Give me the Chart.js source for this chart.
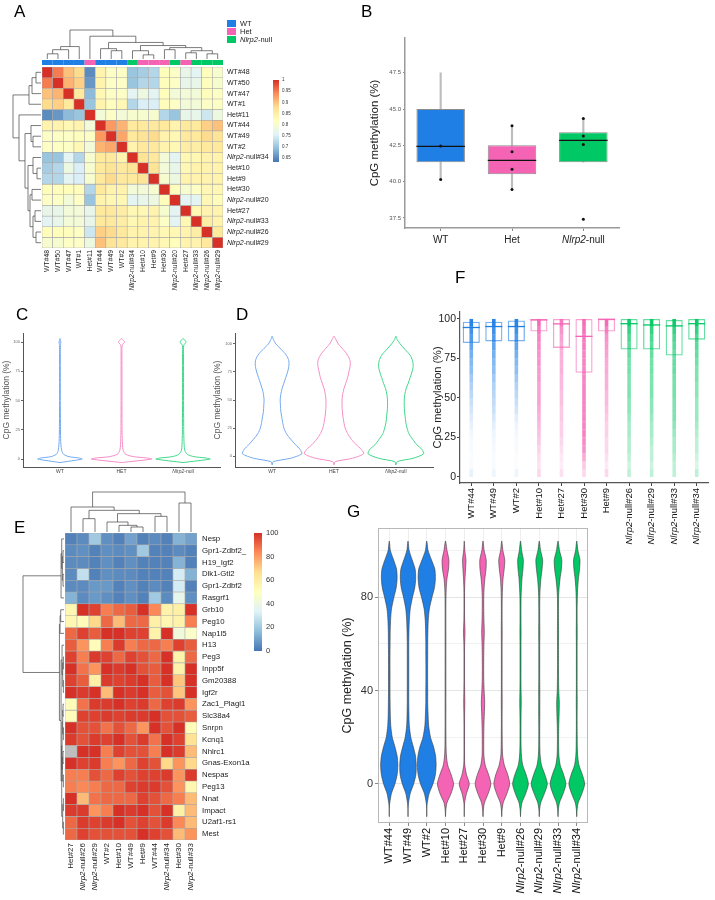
<!DOCTYPE html>
<html>
<head>
<meta charset="utf-8">
<title>CpG methylation figure</title>
<script src="https://cdn.jsdelivr.net/npm/chart.js@4.4.1/dist/chart.umd.min.js"></script>
<style>
  html, body { margin: 0; padding: 0; background: #fff; }
  #fig { position: relative; width: 715px; height: 900px; overflow: hidden; background: #fff; }
  #fig canvas { position: absolute; }
  .tag { position: absolute; font: 17px 'Liberation Sans', Arial, sans-serif; color: #000; line-height: 1; }
</style>
</head>
<body>
<div id="fig">
  <canvas id="chartA" width="360" height="300" style="left:0;top:0"></canvas>
  <canvas id="chartB" width="355" height="262" style="left:360px;top:0"></canvas>
  <canvas id="chartC" width="230" height="180" style="left:0;top:310px"></canvas>
  <canvas id="chartD" width="240" height="180" style="left:205px;top:310px"></canvas>
  <canvas id="chartE" width="330" height="420" style="left:0;top:480px"></canvas>
  <canvas id="chartF" width="315" height="270" style="left:400px;top:290px"></canvas>
  <canvas id="chartG" width="385" height="400" style="left:330px;top:500px"></canvas>
  <div class="tag" style="left:14px;top:3px">A</div>
  <div class="tag" style="left:361px;top:3px">B</div>
  <div class="tag" style="left:16px;top:306px">C</div>
  <div class="tag" style="left:236px;top:306px">D</div>
  <div class="tag" style="left:14px;top:519px">E</div>
  <div class="tag" style="left:455px;top:269px">F</div>
  <div class="tag" style="left:347px;top:503px">G</div>
</div>
<script>
/* ---------- shared look ---------- */
const FONT = "'Liberation Sans', Arial, sans-serif";
const GROUP_COLOR = { WT: '#1F7FE5', Het: '#F564B4', KO: '#00C864' };
const GROUP_RGB = { WT: '31,127,229', Het: '245,100,180', KO: '0,200,100' };
const RDYLBU = ['#4575B4', '#91BFDB', '#E0F3F8', '#FFFFBF', '#FEE090', '#FC8D59', '#D73027'];

/* ---------- A: sample correlation ---------- */
const samplesA = ['WT#48', 'WT#50', 'WT#47', 'WT#1', 'Het#11', 'WT#44', 'WT#49', 'WT#2', 'Nlrp2-null#34',
  'Het#10', 'Het#9', 'Het#30', 'Nlrp2-null#20', 'Het#27', 'Nlrp2-null#33', 'Nlrp2-null#26', 'Nlrp2-null#29'];
const groupsA = ['WT', 'WT', 'WT', 'WT', 'Het', 'WT', 'WT', 'WT', 'KO', 'Het', 'Het', 'Het', 'KO', 'Het', 'KO', 'KO', 'KO'];
const corrA = [
  [1.00, 0.95, 0.90, 0.88, 0.65, 0.84, 0.81, 0.81, 0.70, 0.71, 0.72, 0.82, 0.81, 0.77, 0.76, 0.82, 0.80],
  [0.95, 1.00, 0.91, 0.89, 0.66, 0.84, 0.81, 0.81, 0.70, 0.72, 0.72, 0.82, 0.81, 0.77, 0.77, 0.82, 0.80],
  [0.90, 0.91, 1.00, 0.86, 0.69, 0.83, 0.81, 0.81, 0.76, 0.78, 0.76, 0.82, 0.79, 0.79, 0.79, 0.82, 0.81],
  [0.88, 0.89, 0.86, 1.00, 0.70, 0.84, 0.82, 0.83, 0.72, 0.75, 0.75, 0.82, 0.81, 0.79, 0.79, 0.81, 0.81],
  [0.65, 0.66, 0.69, 0.70, 1.00, 0.79, 0.81, 0.79, 0.80, 0.80, 0.80, 0.72, 0.70, 0.77, 0.77, 0.74, 0.78],
  [0.84, 0.84, 0.83, 0.84, 0.79, 1.00, 0.93, 0.91, 0.86, 0.86, 0.86, 0.86, 0.84, 0.86, 0.86, 0.89, 0.90],
  [0.81, 0.81, 0.81, 0.82, 0.81, 0.93, 1.00, 0.92, 0.86, 0.87, 0.88, 0.84, 0.83, 0.86, 0.86, 0.88, 0.87],
  [0.81, 0.81, 0.81, 0.83, 0.79, 0.91, 0.92, 1.00, 0.84, 0.86, 0.86, 0.84, 0.83, 0.85, 0.85, 0.86, 0.86],
  [0.70, 0.70, 0.76, 0.72, 0.80, 0.86, 0.86, 0.84, 1.00, 0.87, 0.86, 0.79, 0.76, 0.83, 0.83, 0.84, 0.84],
  [0.71, 0.72, 0.78, 0.75, 0.80, 0.86, 0.87, 0.86, 0.87, 1.00, 0.87, 0.79, 0.77, 0.83, 0.84, 0.84, 0.84],
  [0.72, 0.72, 0.76, 0.75, 0.80, 0.86, 0.88, 0.86, 0.86, 0.87, 1.00, 0.80, 0.78, 0.84, 0.84, 0.84, 0.84],
  [0.82, 0.82, 0.82, 0.82, 0.72, 0.86, 0.84, 0.84, 0.79, 0.79, 0.80, 1.00, 0.82, 0.80, 0.81, 0.83, 0.83],
  [0.81, 0.81, 0.79, 0.81, 0.70, 0.84, 0.83, 0.83, 0.76, 0.77, 0.78, 0.82, 1.00, 0.76, 0.76, 0.83, 0.82],
  [0.77, 0.77, 0.79, 0.79, 0.77, 0.86, 0.86, 0.85, 0.83, 0.83, 0.84, 0.80, 0.76, 1.00, 0.83, 0.84, 0.84],
  [0.76, 0.77, 0.79, 0.79, 0.77, 0.86, 0.86, 0.85, 0.83, 0.84, 0.84, 0.81, 0.76, 0.83, 1.00, 0.85, 0.84],
  [0.82, 0.82, 0.82, 0.81, 0.74, 0.89, 0.88, 0.86, 0.84, 0.84, 0.84, 0.83, 0.83, 0.84, 0.85, 1.00, 0.86],
  [0.80, 0.80, 0.81, 0.81, 0.78, 0.90, 0.87, 0.86, 0.84, 0.84, 0.84, 0.83, 0.82, 0.84, 0.84, 0.86, 1.00]
];
// [left, right, height]; numbers are leaves in display order
const treeA = [
  [[[0, 1, 0.05], 2, 0.09], 3, 0.12],
  [4, [[5, [6, 7, 0.08], 0.10],
       [[8, [9, 10, 0.04], 0.08], [[11, 12, 0.09], [[13, 14, 0.06], [15, 16, 0.05], 0.08], 0.11], 0.13], 0.16], 0.22],
  0.28];
const corrRangeA = [0.632, 1];
const corrTicksA = [1, 0.95, 0.9, 0.85, 0.8, 0.75, 0.7, 0.65];
const legendA = [['WT', 'WT'], ['Het', 'Het'], ['Nlrp2-null', 'KO']];

/* ---------- B: global methylation per genotype ---------- */
const groupsB = ['WT', 'Het', 'Nlrp2-null'];
const keysB = ['WT', 'Het', 'KO'];
const boxB = [[41.34, 45.0], [40.5, 42.5], [41.34, 43.4]];
const medianB = [42.43, 41.46, 42.84];
const whiskerB = [[40.15, 47.5], [39.45, 43.85], [41.34, 44.35]];
const pointsB = [[42.45, 40.15], [43.85, 42.05, 40.85, 39.45], [44.35, 43.15, 42.55, 37.4]];
const ticksB = [37.5, 40, 42.5, 45, 47.5];

/* ---------- C, D: pooled violins ---------- */
const groupsCD = ['WT', 'HET', 'Nlrp2-null'];
const outlineCD = ['#72AAF0', '#F68CC6', '#3FD889'];
const ticksCD = [0, 25, 50, 75, 100];
const yGridC = [-3, 0, 1, 2, 4, 7, 10, 15, 20, 30, 50, 70, 90, 97, 99, 100, 101, 103];
const widthC = [
  [0, 0.36, 0.3, 0.15, 0.06, 0.03, 0.02, 0.013, 0.01, 0.008, 0.006, 0.006, 0.006, 0.008, 0.012, 0.015, 0.01, 0],
  [0, 0.49, 0.4, 0.2, 0.07, 0.03, 0.02, 0.013, 0.01, 0.008, 0.007, 0.007, 0.007, 0.01, 0.035, 0.055, 0.035, 0],
  [0, 0.44, 0.36, 0.18, 0.07, 0.03, 0.02, 0.015, 0.012, 0.01, 0.008, 0.008, 0.008, 0.01, 0.035, 0.055, 0.035, 0]
];
const yGridD = [-8, -5, -2, 2, 6, 10, 15, 20, 25, 30, 35, 40, 45, 50, 55, 60, 65, 70, 75, 80, 85, 90, 95, 100, 104, 107];
const widthD = [
  [0, 0.02, 0.3, 0.48, 0.45, 0.38, 0.3, 0.23, 0.19, 0.17, 0.155, 0.14, 0.135, 0.13, 0.14, 0.16, 0.19, 0.22, 0.25, 0.27, 0.27, 0.23, 0.15, 0.06, 0.02, 0],
  [0, 0.02, 0.3, 0.48, 0.44, 0.36, 0.28, 0.22, 0.18, 0.16, 0.145, 0.135, 0.13, 0.13, 0.14, 0.16, 0.19, 0.22, 0.24, 0.26, 0.26, 0.22, 0.15, 0.07, 0.03, 0],
  [0, 0.02, 0.28, 0.45, 0.42, 0.34, 0.27, 0.21, 0.18, 0.16, 0.15, 0.14, 0.135, 0.135, 0.145, 0.165, 0.2, 0.23, 0.26, 0.28, 0.27, 0.23, 0.15, 0.07, 0.02, 0]
];

/* ---------- E: imprinted loci ---------- */
const samplesE = ['Het#27', 'Nlrp2-null#26', 'Nlrp2-null#29', 'WT#2', 'Het#10', 'WT#49', 'Het#9', 'WT#44',
  'Nlrp2-null#34', 'Het#30', 'Nlrp2-null#33'];
const lociE = ['Nesp', 'Gpr1-Zdbf2_', 'H19_Igf2', 'Dlk1-Gtl2', 'Gpr1-Zdbf2', 'Rasgrf1', 'Grb10', 'Peg10', 'Nap1l5',
  'H13', 'Peg3', 'Inpp5f', 'Gm20388', 'Igf2r', 'Zac1_Plagl1', 'Slc38a4', 'Snrpn', 'Kcnq1', 'Nhlrc1',
  'Gnas-Exon1a', 'Nespas', 'Peg13', 'Nnat', 'Impact', 'U2af1-rs1', 'Mest'];
const methE = [
  [3, 5, 20, 6, 3, 10, 3, 5, 3, 14, 10],
  [5, 6, 3, 6, 5, 6, 20, 3, 3, 5, 3],
  [5, 5, 3, 6, 3, 6, 3, 3, 3, 14, 3],
  [5, 27, 3, 6, 5, 5, 3, 3, 3, 31, 14],
  [5, 5, 8, 8, 3, 6, 3, 5, 3, 31, 3],
  [14, 5, 8, 6, 3, 6, 3, 20, 5, 37, 6],
  [55, 100, 97, 86, 90, 92, 100, 84, 57, 58, 100],
  [55, 52, 68, 90, 74, 90, 90, 58, 55, 57, 86],
  [90, 97, 92, 100, 100, 97, 97, 57, 100, 42, 47],
  [92, 82, 52, 86, 98, 86, 90, 90, 86, 97, 92],
  [97, 86, 98, 97, 90, 97, 94, 90, 100, 57, 90],
  [100, 88, 82, 100, 98, 100, 94, 92, 100, 57, 100],
  [97, 92, 58, 98, 97, 98, 100, 92, 100, 72, 100],
  [100, 98, 100, 74, 100, 98, 100, 92, 94, 72, 100],
  [52, 88, 98, 98, 100, 97, 98, 90, 97, 98, 82],
  [52, 97, 97, 98, 97, 98, 98, 100, 94, 94, 92],
  [100, 94, 94, 88, 94, 90, 82, 100, 94, 100, 52],
  [98, 94, 98, 97, 100, 94, 98, 88, 100, 97, 65],
  [null, 100, 100, 86, 97, 94, 94, 86, 100, 98, 74],
  [100, 97, 98, 86, 82, 90, 97, 94, 68, 82, 68],
  [86, 86, 94, 90, 97, 94, 97, 97, 98, 82, 98],
  [86, 84, 86, 90, 90, 97, 98, 98, 94, 82, 55],
  [100, 74, 88, 90, 90, 90, 97, 94, 90, 86, 74],
  [98, 98, 82, 86, 100, 98, 100, 94, 100, 58, 74],
  [90, 98, 97, 98, 100, 94, 97, 94, 98, 84, 74],
  [90, 97, 94, 94, 94, 94, 100, 97, 94, 74, 82]
];
const colTreeE = [[0, [[1, 2, 40], [[3, [4, [5, 6, 15], 20], 30], [7, 8, 47], 55], 65], 75], [9, 10, 87], 120];
const rowTreeE = [
  [[0, [[1, 2, 3], [3, 4, 3], 5], 7], 5, 9],
  [[[6, 7, 10], 8, 12],
   [[9, [[10, 11, 2], [12, 13, 2], 4], 6],
    [[[[14, 15, 3], [16, 17, 2], 4], [[18, 19, 3], [20, 21, 2], 5], 6], [[22, 23, 2], [24, 25, 2], 4], 7], 9], 14],
  125];
const ticksE = [100, 80, 60, 40, 20, 0];

/* ---------- F: per-sample boxes with points ---------- */
const samplesF = ['WT#44', 'WT#49', 'WT#2', 'Het#10', 'Het#27', 'Het#30', 'Het#9',
  'Nlrp2-null#26', 'Nlrp2-null#29', 'Nlrp2-null#33', 'Nlrp2-null#34'];
const groupsF = ['WT', 'WT', 'WT', 'Het', 'Het', 'Het', 'Het', 'KO', 'KO', 'KO', 'KO'];
const boxF = [[84.8, 98.3], [85.8, 98.3], [85.8, 99], [92, 100], [81.7, 100], [66, 100], [92, 100],
  [80.6, 100], [80.6, 100], [76.9, 99.4], [86.9, 100]];
const medianF = [94.6, 95.2, 95.2, 99.4, 96.9, 89, 99.8, 97, 96.2, 95.6, 97];
const stripBinsF = [0, 5, 10, 15, 20, 25, 30, 35, 40, 45, 50, 55, 60, 65, 70, 75, 80, 85, 90, 95, 100];
const stripF = [
  [0.1, 0.03, 0.02, 0.03, 0.04, 0.06, 0.1, 0.15, 0.2, 0.25, 0.3, 0.35, 0.42, 0.5, 0.55, 0.62, 0.7, 0.78, 0.85, 0.95],
  [0.08, 0.03, 0.03, 0.04, 0.05, 0.08, 0.12, 0.18, 0.24, 0.28, 0.32, 0.36, 0.42, 0.5, 0.55, 0.62, 0.7, 0.78, 0.85, 0.95],
  [0.08, 0.02, 0.02, 0.03, 0.04, 0.05, 0.08, 0.13, 0.2, 0.25, 0.3, 0.35, 0.42, 0.5, 0.55, 0.62, 0.7, 0.78, 0.85, 0.95],
  [0.25, 0.18, 0.22, 0.28, 0.35, 0.4, 0.45, 0.5, 0.55, 0.6, 0.6, 0.6, 0.65, 0.65, 0.7, 0.7, 0.75, 0.8, 0.85, 0.95],
  [0.2, 0.12, 0.15, 0.2, 0.25, 0.3, 0.3, 0.35, 0.35, 0.4, 0.4, 0.45, 0.45, 0.5, 0.5, 0.5, 0.55, 0.6, 0.7, 0.85],
  [0.25, 0.35, 0.55, 0.7, 0.75, 0.8, 0.8, 0.8, 0.8, 0.8, 0.8, 0.8, 0.8, 0.8, 0.8, 0.8, 0.85, 0.85, 0.9, 0.95],
  [0.25, 0.15, 0.2, 0.25, 0.25, 0.3, 0.3, 0.35, 0.4, 0.45, 0.45, 0.5, 0.5, 0.55, 0.55, 0.6, 0.65, 0.7, 0.8, 0.95],
  [0.25, 0.2, 0.25, 0.3, 0.3, 0.35, 0.35, 0.4, 0.45, 0.45, 0.5, 0.5, 0.5, 0.55, 0.55, 0.6, 0.65, 0.7, 0.8, 0.95],
  [0.25, 0.2, 0.25, 0.25, 0.3, 0.35, 0.35, 0.4, 0.45, 0.45, 0.5, 0.5, 0.5, 0.55, 0.55, 0.6, 0.65, 0.7, 0.8, 0.95],
  [0.25, 0.25, 0.3, 0.35, 0.35, 0.4, 0.45, 0.5, 0.5, 0.5, 0.55, 0.55, 0.55, 0.6, 0.6, 0.6, 0.65, 0.7, 0.8, 0.95],
  [0.25, 0.15, 0.2, 0.25, 0.25, 0.3, 0.35, 0.4, 0.4, 0.4, 0.45, 0.45, 0.5, 0.5, 0.55, 0.6, 0.65, 0.7, 0.8, 0.95]
];
const ticksF = [0, 25, 50, 75, 100];

/* ---------- G: per-sample violins ---------- */
const samplesG = samplesF;
const groupsG = groupsF;
const yGridG = [-14, -11, -8, -4, 0, 4, 8, 12, 16, 20, 25, 30, 35, 40, 45, 50, 55, 60, 65, 70, 75, 80, 84, 88, 92, 96, 100, 104];
const widthG = [
  [0, 0, 0.03, 0.12, 0.3, 0.42, 0.46, 0.42, 0.3, 0.16, 0.08, 0.055, 0.045, 0.04, 0.04, 0.04, 0.04, 0.045, 0.05, 0.07, 0.12, 0.25, 0.37, 0.42, 0.39, 0.23, 0.06, 0],
  [0, 0, 0.03, 0.12, 0.3, 0.42, 0.44, 0.4, 0.28, 0.15, 0.07, 0.05, 0.04, 0.04, 0.04, 0.04, 0.04, 0.04, 0.05, 0.07, 0.12, 0.24, 0.36, 0.41, 0.38, 0.22, 0.06, 0],
  [0, 0, 0.03, 0.13, 0.33, 0.46, 0.5, 0.47, 0.36, 0.2, 0.1, 0.07, 0.05, 0.05, 0.045, 0.045, 0.05, 0.05, 0.06, 0.08, 0.14, 0.28, 0.41, 0.46, 0.43, 0.25, 0.07, 0],
  [0, 0.02, 0.08, 0.3, 0.43, 0.3, 0.12, 0.05, 0.03, 0.025, 0.02, 0.02, 0.02, 0.02, 0.02, 0.02, 0.02, 0.02, 0.02, 0.02, 0.02, 0.025, 0.04, 0.08, 0.16, 0.18, 0.08, 0],
  [0, 0, 0.02, 0.12, 0.27, 0.12, 0.03, 0.015, 0.015, 0.015, 0.015, 0.02, 0.03, 0.02, 0.015, 0.015, 0.015, 0.02, 0.04, 0.02, 0.015, 0.015, 0.02, 0.04, 0.07, 0.09, 0.03, 0],
  [0, 0.02, 0.08, 0.28, 0.42, 0.3, 0.12, 0.05, 0.04, 0.04, 0.05, 0.07, 0.09, 0.06, 0.04, 0.035, 0.04, 0.05, 0.07, 0.05, 0.04, 0.04, 0.06, 0.1, 0.16, 0.17, 0.06, 0],
  [0, 0.02, 0.08, 0.28, 0.42, 0.32, 0.14, 0.05, 0.03, 0.025, 0.02, 0.02, 0.025, 0.02, 0.02, 0.02, 0.02, 0.02, 0.025, 0.02, 0.02, 0.025, 0.04, 0.07, 0.13, 0.16, 0.06, 0],
  [0, 0.02, 0.08, 0.28, 0.42, 0.3, 0.12, 0.05, 0.03, 0.025, 0.025, 0.03, 0.04, 0.03, 0.025, 0.025, 0.025, 0.025, 0.03, 0.025, 0.025, 0.03, 0.05, 0.08, 0.13, 0.15, 0.06, 0],
  [0, 0.02, 0.08, 0.28, 0.43, 0.3, 0.12, 0.05, 0.03, 0.025, 0.025, 0.03, 0.03, 0.03, 0.025, 0.025, 0.025, 0.025, 0.03, 0.025, 0.025, 0.03, 0.05, 0.09, 0.15, 0.18, 0.07, 0],
  [0, 0.02, 0.08, 0.28, 0.42, 0.3, 0.12, 0.05, 0.035, 0.03, 0.04, 0.06, 0.07, 0.04, 0.03, 0.025, 0.025, 0.025, 0.03, 0.025, 0.025, 0.03, 0.06, 0.11, 0.18, 0.2, 0.08, 0],
  [0, 0.02, 0.08, 0.28, 0.42, 0.3, 0.12, 0.05, 0.03, 0.025, 0.02, 0.02, 0.025, 0.02, 0.02, 0.02, 0.02, 0.02, 0.025, 0.02, 0.02, 0.03, 0.05, 0.09, 0.15, 0.17, 0.06, 0]
];
const gridG = [0, 20, 40, 60, 80, 100];
const labelledG = [0, 40, 80];

/* ---------- helpers ---------- */
Chart.defaults.font.family = FONT;

function hexRgb(h) {
  return [1, 3, 5].map(i => parseInt(h.slice(i, i + 2), 16));
}

function rampColor(t) {
  t = Math.min(1, Math.max(0, t)) * (RDYLBU.length - 1);
  const i = Math.min(RDYLBU.length - 2, Math.floor(t));
  const f = t - i;
  const a = hexRgb(RDYLBU[i]), b = hexRgb(RDYLBU[i + 1]);
  return 'rgb(' + a.map((v, k) => Math.round(v + (b[k] - v) * f)).join(',') + ')';
}

// label with the gene symbol in italics
function drawName(ctx, text, x, y, size, opt) {
  const parts = text.startsWith('Nlrp2') ? [['Nlrp2', true], [text.slice(5), false]] : [[text, false]];
  ctx.save();
  ctx.translate(x, y);
  if (opt.rotate) ctx.rotate(-Math.PI / 2);
  ctx.fillStyle = opt.color || '#222';
  ctx.textBaseline = 'middle';
  ctx.textAlign = 'left';
  const fonts = parts.map(p => (p[1] ? 'italic ' : '') + size + 'px ' + FONT);
  const widths = parts.map((p, i) => { ctx.font = fonts[i]; return ctx.measureText(p[0]).width; });
  const total = widths.reduce((a, b) => a + b, 0);
  let cx = opt.align === 'right' ? -total : opt.align === 'center' ? -total / 2 : 0;
  parts.forEach((p, i) => { ctx.font = fonts[i]; ctx.fillText(p[0], cx, 0); cx += widths[i]; });
  ctx.restore();
}

function drawDendro(ctx, node, leafPos, heightPos, columns) {
  if (typeof node === 'number') return { p: leafPos(node), h: heightPos(0) };
  const a = drawDendro(ctx, node[0], leafPos, heightPos, columns);
  const b = drawDendro(ctx, node[1], leafPos, heightPos, columns);
  const h = heightPos(node[2]);
  if (columns) {
    ctx.moveTo(a.p, a.h); ctx.lineTo(a.p, h); ctx.lineTo(b.p, h); ctx.lineTo(b.p, b.h);
  } else {
    ctx.moveTo(a.h, a.p); ctx.lineTo(h, a.p); ctx.lineTo(h, b.p); ctx.lineTo(b.h, b.p);
  }
  return { p: (a.p + b.p) / 2, h: h };
}

function drawColorBar(ctx, x, top, w, bottom) {
  const g = ctx.createLinearGradient(0, bottom, 0, top);
  RDYLBU.forEach((c, i) => g.addColorStop(i / (RDYLBU.length - 1), c));
  ctx.fillStyle = g;
  ctx.fillRect(x, top, w, bottom - top);
}

// closed outline: left edge upwards, right edge back down
function violinPoints(center, ys, ws) {
  const pts = ys.map((y, k) => ({ x: center - ws[k], y: y }));
  for (let k = ys.length - 2; k >= 0; k--) pts.push({ x: center + ws[k], y: ys[k] });
  return pts;
}

function fixedTicks(values) {
  return scale => { scale.ticks = values.map(v => ({ value: v })); };
}

const baseOptions = {
  responsive: false,
  animation: false,
  events: [],
  plugins: { legend: { display: false }, tooltip: { enabled: false } }
};

/* ---------- heatmaps (A, E) as stacked unit bars ---------- */
function heatDatasets(matrix, toColor) {
  return matrix.map(row => ({
    data: row.map(() => 1),
    backgroundColor: row.map(toColor),
    borderColor: '#a9a9a9',
    borderWidth: 0.6,
    borderSkipped: false,
    barPercentage: 1,
    categoryPercentage: 1
  }));
}

new Chart(document.getElementById('chartA'), {
  type: 'bar',
  data: {
    labels: samplesA,
    datasets: heatDatasets(corrA, v => rampColor((v - corrRangeA[0]) / (corrRangeA[1] - corrRangeA[0])))
  },
  options: {
    ...baseOptions,
    layout: { padding: { left: 42, top: 67, right: 137, bottom: 52 } },
    scales: {
      x: { display: false, stacked: true },
      y: { display: false, stacked: true, min: 0, max: samplesA.length, reverse: true }
    }
  },
  plugins: [{
    id: 'decorA',
    afterDraw(chart) {
      const { ctx, chartArea: ca, scales: { x, y } } = chart;
      const colW = x.getPixelForValue(1) - x.getPixelForValue(0);
      // group annotation bar
      groupsA.forEach((g, i) => {
        ctx.fillStyle = GROUP_COLOR[g];
        ctx.fillRect(x.getPixelForValue(i) - colW / 2, ca.top - 7, colW, 5);
      });
      ctx.strokeStyle = '#444';
      ctx.lineWidth = 0.7;
      ctx.beginPath();
      drawDendro(ctx, treeA, i => x.getPixelForValue(i), h => ca.top - 8 - h / treeA[2] * 29, true);
      drawDendro(ctx, treeA, i => y.getPixelForValue(i + 0.5), h => ca.left - 1 - h / treeA[2] * 28, false);
      ctx.stroke();
      samplesA.forEach((s, i) => {
        drawName(ctx, s, ca.right + 4, y.getPixelForValue(i + 0.5), 7, { align: 'left' });
        drawName(ctx, s, x.getPixelForValue(i), ca.bottom + 2, 6.8, { rotate: true, align: 'right' });
      });
      // legend
      legendA.forEach((l, i) => {
        ctx.fillStyle = GROUP_COLOR[l[1]];
        ctx.fillRect(227, 20 + i * 8, 9, 7);
        drawName(ctx, l[0], 240, 23.5 + i * 8, 7.5, { align: 'left' });
      });
      // colour key
      const top = 80, bottom = 162;
      drawColorBar(ctx, 273, top, 6, bottom);
      corrTicksA.forEach(v => {
        const py = bottom - (v - corrRangeA[0]) / (corrRangeA[1] - corrRangeA[0]) * (bottom - top);
        drawName(ctx, String(v), 282, py, 4.5, { align: 'left', color: '#333' });
      });
    }
  }]
});

new Chart(document.getElementById('chartE'), {
  type: 'bar',
  data: {
    labels: samplesE,
    datasets: heatDatasets(methE, v => v === null ? '#BEBEBE' : rampColor(v / 100))
  },
  options: {
    ...baseOptions,
    layout: { padding: { left: 65, top: 53, right: 133, bottom: 60 } },
    scales: {
      x: { display: false, stacked: true },
      y: { display: false, stacked: true, min: 0, max: lociE.length, reverse: true }
    }
  },
  plugins: [{
    id: 'decorE',
    afterDraw(chart) {
      const { ctx, chartArea: ca, scales: { x, y } } = chart;
      ctx.strokeStyle = '#444';
      ctx.lineWidth = 0.7;
      ctx.beginPath();
      drawDendro(ctx, colTreeE, i => x.getPixelForValue(i), h => ca.top - 1 - h / colTreeE[2] * 40, true);
      drawDendro(ctx, rowTreeE, i => y.getPixelForValue(i + 0.5), h => ca.left - 1 - h / rowTreeE[2] * 41, false);
      ctx.stroke();
      lociE.forEach((s, i) => drawName(ctx, s, ca.right + 5, y.getPixelForValue(i + 0.5), 7.8, { align: 'left' }));
      samplesE.forEach((s, i) => drawName(ctx, s, x.getPixelForValue(i), ca.bottom + 3, 8, { rotate: true, align: 'right' }));
      const top = 53, bottom = 171;
      drawColorBar(ctx, 254, top, 8, bottom);
      ticksE.forEach(v => {
        drawName(ctx, String(v), 266, bottom - v / 100 * (bottom - top), 7.5, { align: 'left', color: '#333' });
      });
    }
  }]
});

/* ---------- B ---------- */
new Chart(document.getElementById('chartB'), {
  type: 'bar',
  data: {
    labels: groupsB,
    datasets: [
      {
        data: whiskerB, backgroundColor: '#bdbdbd', barThickness: 1.5,
        grouped: false, order: 3
      },
      {
        data: boxB, backgroundColor: keysB.map(k => GROUP_COLOR[k]), borderColor: '#8c8c8c', borderWidth: 1,
        borderSkipped: false, barPercentage: 0.68, categoryPercentage: 1, grouped: false, order: 2
      },
      {
        type: 'line', showLine: false, order: 0,
        data: pointsB.flatMap((vals, i) => vals.map(v => ({ x: groupsB[i], y: v }))),
        pointRadius: 1.5, pointBackgroundColor: '#111', pointBorderWidth: 0
      }
    ]
  },
  options: {
    ...baseOptions,
    layout: { padding: { left: 0, top: 38, right: 96, bottom: 0 } },
    scales: {
      x: {
        ticks: { display: false },
        grid: { display: true, drawOnChartArea: false, offset: false, tickLength: 3, color: '#888' },
        border: { color: '#9a9a9a', width: 1.5 },
        afterFit: s => { s.height = 34; }
      },
      y: {
        min: 36.8, max: 49.9,
        afterBuildTicks: fixedTicks(ticksB),
        ticks: { font: { size: 6 }, color: '#555', padding: 2, callback: v => v.toFixed(1) },
        grid: { display: true, drawOnChartArea: false, tickLength: 2, color: '#888' },
        border: { color: '#9a9a9a', width: 1.5 },
        title: { display: true, text: 'CpG methylation (%)', font: { size: 11.5 }, color: '#222', padding: { top: 8, bottom: 0 } },
        afterFit: s => { s.width = 45; }
      }
    }
  },
  plugins: [{
    id: 'medianB',
    afterDatasetsDraw(chart) {
      const { ctx, chartArea: ca, scales: { x, y } } = chart;
      const bars = chart.getDatasetMeta(1).data;
      ctx.strokeStyle = '#111';
      ctx.lineWidth = 1.2;
      medianB.forEach((m, i) => {
        const py = y.getPixelForValue(m);
        ctx.beginPath();
        ctx.moveTo(bars[i].x - bars[i].width / 2, py);
        ctx.lineTo(bars[i].x + bars[i].width / 2, py);
        ctx.stroke();
      });
      groupsB.forEach((g, i) => drawName(ctx, g, x.getPixelForValue(i), ca.bottom + 12, 10, { align: 'center' }));
    }
  }]
});

/* ---------- C, D ---------- */
function violinOutlineChart(id, yGrid, widths, yMin, yMax, areaLeft, padRight, titlePad) {
  return new Chart(document.getElementById(id), {
    type: 'scatter',
    data: {
      datasets: groupsCD.map((g, i) => ({
        data: violinPoints(i, yGrid, widths[i]),
        showLine: true, fill: false, borderColor: outlineCD[i], borderWidth: 1,
        pointRadius: 0, tension: 0.25
      }))
    },
    options: {
      ...baseOptions,
      layout: { padding: { left: 0, top: 23, right: padRight, bottom: 0 } },
      scales: {
        x: {
          min: -0.6, max: 2.6,
          ticks: { display: false }, grid: { display: false },
          border: { color: '#555', width: 1 },
          afterFit: s => { s.height = 23; }
        },
        y: {
          min: yMin, max: yMax,
          afterBuildTicks: fixedTicks(ticksCD),
          ticks: { font: { size: 4 }, color: '#666', padding: 1 },
          grid: { display: true, drawOnChartArea: false, tickLength: 2, color: '#666' },
          border: { color: '#555', width: 1 },
          title: { display: true, text: 'CpG methylation (%)', font: { size: 8.5 }, color: '#555', padding: { top: titlePad, bottom: 0 } },
          afterFit: s => { s.width = areaLeft; }
        }
      }
    },
    plugins: [{
      id: id + 'labels',
      afterDraw(chart) {
        const { ctx, chartArea: ca, scales: { x } } = chart;
        groupsCD.forEach((g, i) => drawName(ctx, g, x.getPixelForValue(i), ca.bottom + 5, 5, { align: 'center', color: '#444' }));
      }
    }]
  });
}
violinOutlineChart('chartC', yGridC, widthC, -6.8, 107.7, 23, 10, 2);
violinOutlineChart('chartD', yGridD, widthD, -9.8, 109.8, 30, 12, 8);

/* ---------- F ---------- */
new Chart(document.getElementById('chartF'), {
  type: 'bar',
  data: {
    labels: samplesF,
    datasets: [{
      data: boxF,
      backgroundColor: 'rgba(255,255,255,0)',
      borderColor: groupsF.map(g => 'rgba(' + GROUP_RGB[g] + ',0.6)'),
      borderWidth: 1.3, borderSkipped: false, barPercentage: 0.76, categoryPercentage: 1
    }]
  },
  options: {
    ...baseOptions,
    layout: { padding: { left: 0, top: 22, right: 7, bottom: 0 } },
    scales: {
      x: {
        ticks: { display: false },
        grid: { display: true, drawOnChartArea: false, offset: false, tickLength: 3, color: '#444' },
        border: { color: '#555', width: 1.2 },
        afterFit: s => { s.height = 77; }
      },
      y: {
        min: -3.8, max: 104.4,
        afterBuildTicks: fixedTicks(ticksF),
        ticks: { font: { size: 10.5 }, color: '#222', padding: 1 },
        grid: { display: true, drawOnChartArea: false, tickLength: 3, color: '#444' },
        border: { color: '#555', width: 1.2 },
        title: { display: true, text: 'CpG methylation (%)', font: { size: 11 }, color: '#222', padding: { top: 31, bottom: 0 } },
        afterFit: s => { s.width = 60; }
      }
    }
  },
  plugins: [{
    id: 'stripF',
    afterDatasetsDraw(chart) {
      const { ctx, chartArea: ca, scales: { x, y } } = chart;
      const bars = chart.getDatasetMeta(0).data;
      stripF.forEach((bins, i) => {
        const xc = x.getPixelForValue(i);
        bins.forEach((d, b) => {
          const y0 = y.getPixelForValue(stripBinsF[b]), y1 = y.getPixelForValue(stripBinsF[b + 1]);
          ctx.fillStyle = 'rgba(' + GROUP_RGB[groupsF[i]] + ',' + d + ')';
          ctx.fillRect(xc - 1.8, y1, 3.6, y0 - y1);
        });
      });
      ctx.lineWidth = 1.3;
      medianF.forEach((m, i) => {
        const py = y.getPixelForValue(m);
        ctx.strokeStyle = GROUP_COLOR[groupsF[i]];
        ctx.beginPath();
        ctx.moveTo(bars[i].x - bars[i].width / 2, py);
        ctx.lineTo(bars[i].x + bars[i].width / 2, py);
        ctx.stroke();
      });
      samplesF.forEach((s, i) => drawName(ctx, s, x.getPixelForValue(i), ca.bottom + 5, 9.5, { rotate: true, align: 'right', color: '#111' }));
    }
  }]
});

/* ---------- G ---------- */
new Chart(document.getElementById('chartG'), {
  type: 'scatter',
  data: {
    datasets: samplesG.map((s, i) => ({
      data: violinPoints(i, yGridG, widthG[i]),
      showLine: true, fill: 'shape',
      backgroundColor: GROUP_COLOR[groupsG[i]],
      borderColor: '#3a3a3a', borderWidth: 0.6,
      pointRadius: 0, tension: 0.25
    }))
  },
  options: {
    ...baseOptions,
    layout: { padding: { left: 0, top: 28, right: 127, bottom: 0 } },
    scales: {
      x: {
        min: -0.6, max: samplesG.length - 0.4,
        afterBuildTicks: fixedTicks(samplesG.map((s, i) => i)),
        ticks: { display: false },
        grid: { color: '#eeeeee', tickLength: 3, tickColor: '#888' },
        border: { display: false },
        afterFit: s => { s.height = 77; }
      },
      y: {
        min: -16.7, max: 109.6,
        afterBuildTicks: fixedTicks(gridG),
        ticks: { font: { size: 11 }, color: '#333', padding: 2, callback: v => labelledG.includes(v) ? String(v) : '' },
        grid: {
          color: c => c.tick && labelledG.includes(c.tick.value) ? '#e4e4e4' : '#f1f1f1',
          tickLength: 3, tickColor: c => c.tick && labelledG.includes(c.tick.value) ? '#888' : 'rgba(0,0,0,0)'
        },
        border: { display: false },
        title: { display: true, text: 'CpG methylation (%)', font: { size: 12.5 }, color: '#222', padding: { top: 10.5, bottom: 0 } },
        afterFit: s => { s.width = 48; }
      }
    }
  },
  plugins: [{
    id: 'frameG',
    afterDraw(chart) {
      const { ctx, chartArea: ca, scales: { x } } = chart;
      ctx.strokeStyle = '#b8b8b8';
      ctx.lineWidth = 1;
      ctx.strokeRect(ca.left + 0.5, ca.top + 0.5, ca.width - 1, ca.height - 1);
      samplesG.forEach((s, i) => drawName(ctx, s, x.getPixelForValue(i), ca.bottom + 5, 11, { rotate: true, align: 'right', color: '#111' }));
    }
  }]
});
</script>
</body>
</html>
